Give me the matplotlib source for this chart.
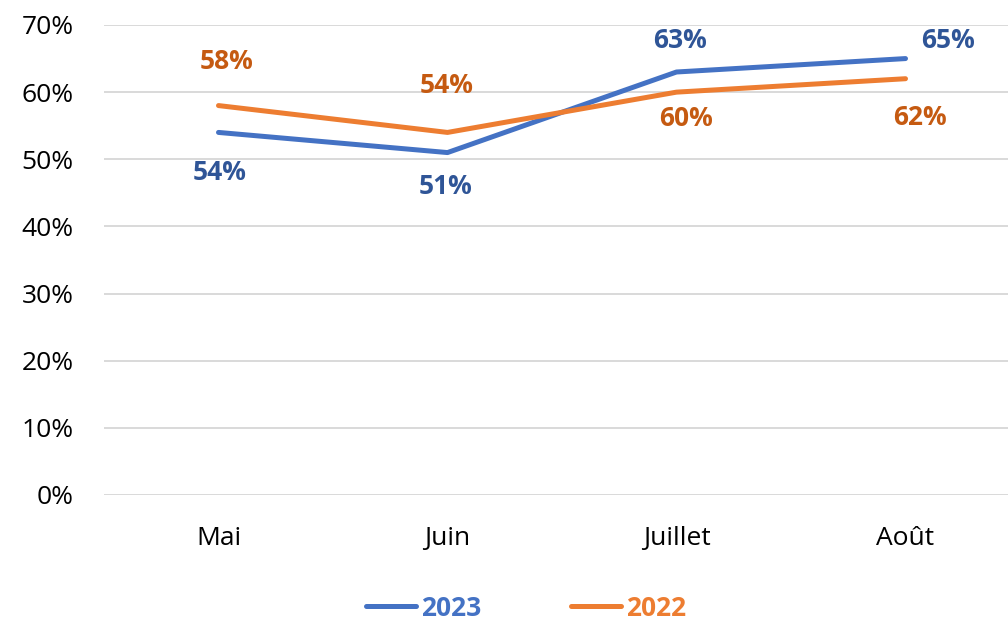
import matplotlib.pyplot as plt
import numpy as np

months = ['Mai', 'Juin', 'Juillet', 'Août']
y2023 = [54, 51, 63, 65]
y2022 = [58, 54, 60, 62]

plt.rcParams['font.family'] = ['Open Sans', 'DejaVu Sans']

fig = plt.figure(figsize=(10.08, 6.23), dpi=100)
# axes extends past the right edge like the original (cropped)
ax = fig.add_axes([104 / 1008, 128 / 623, 916 / 1008, 470 / 623])

x = np.arange(len(months))
blue, orange = '#4472C4', '#ED7D31'
ax.plot(x, y2023, color=blue, linewidth=3.6, solid_capstyle='round', label='2023', zorder=3)
ax.plot(x, y2022, color=orange, linewidth=3.6, solid_capstyle='round', label='2022', zorder=3)

# data labels (offsets in pixels, matched to the reference)
off_2023 = [(1, -40), (-2, -34), (3, 31), (42, 18)]
off_2022 = [(8, 44), (-1, 47), (9, -26), (14, -39)]
for i, v in enumerate(y2023):
    ax.annotate('{}%'.format(v), (x[i], v), xytext=off_2023[i], textcoords='offset pixels',
                ha='center', va='center', color='#2F5597', fontweight='bold', fontsize=19)
for i, v in enumerate(y2022):
    ax.annotate('{}%'.format(v), (x[i], v), xytext=off_2022[i], textcoords='offset pixels',
                ha='center', va='center', color='#C55A11', fontweight='bold', fontsize=19)

ax.set_xlim(-0.5, 3.5)
ax.set_ylim(0, 70)
ax.set_yticks(np.arange(0, 71, 10))
ax.set_yticklabels(['{}%'.format(t) for t in range(0, 71, 10)])
ax.set_xticks(x)
ax.set_xticklabels(months)
ax.tick_params(axis='y', length=0, pad=22, labelsize=19)
ax.tick_params(axis='x', length=0, pad=22, labelsize=19)
ax.grid(axis='y', color='#D9D9D9', linewidth=1.4)
ax.set_axisbelow(True)
for s in ax.spines.values():
    s.set_visible(False)

leg = fig.legend(loc='center', bbox_to_anchor=(526 / 1008, 1 - 608 / 623), ncol=2,
                 frameon=False, fontsize=19, handlelength=1.9, handletextpad=0.2,
                 columnspacing=3.4)
for text, c in zip(leg.get_texts(), [blue, orange]):
    text.set_color(c)
    text.set_fontweight('bold')

fig.savefig('out.png', dpi=100)
